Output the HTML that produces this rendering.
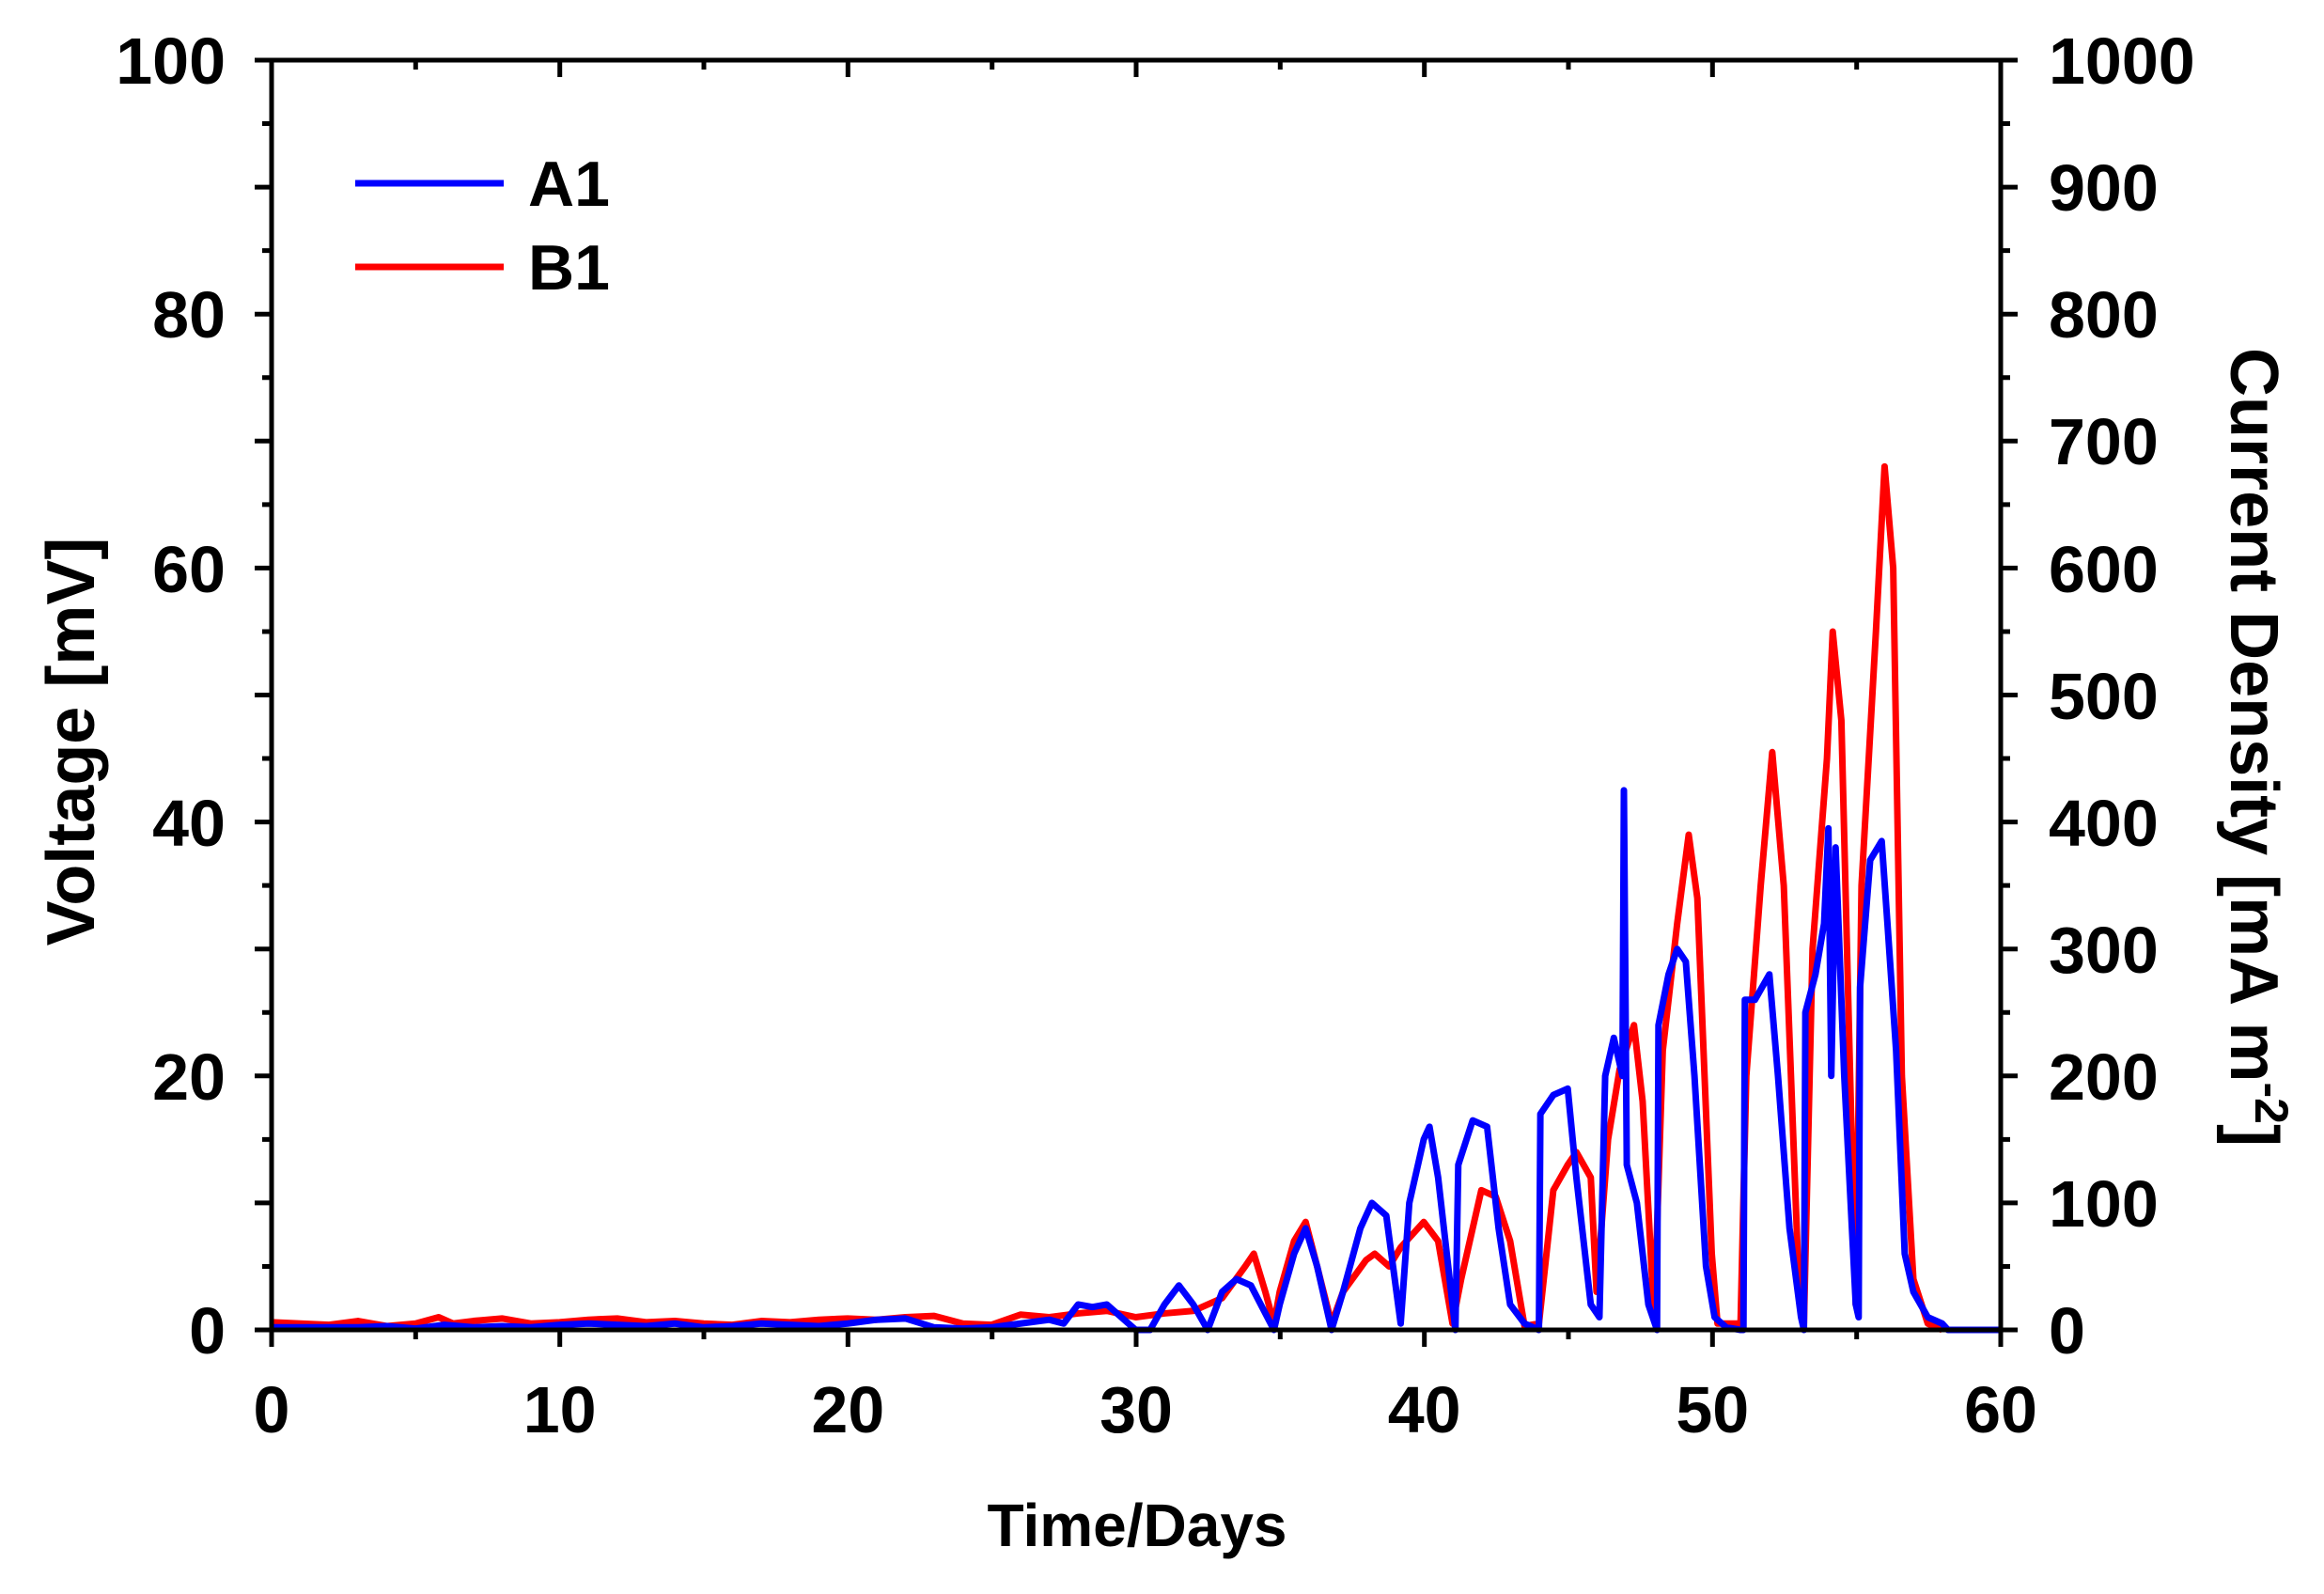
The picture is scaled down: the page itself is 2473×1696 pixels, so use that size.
<!DOCTYPE html>
<html><head><meta charset="utf-8"><style>
body{margin:0;background:#fff}
text{font-family:"Liberation Sans",Arial,sans-serif;font-weight:bold;fill:#000}
</style></head><body>
<svg width="2473" height="1691" viewBox="0 0 2473 1691" xmlns="http://www.w3.org/2000/svg">
<rect width="2473" height="1691" fill="#fff"/>
<g transform="translate(289,1415) scale(30.65,-13.51)" fill="none" stroke-linejoin="round">
<polyline vector-effect="non-scaling-stroke" stroke="#ff0000" stroke-width="7" points="
0,0.6 2,0.4 3,0.7 4,0.3 5,0.5 5.8,1 6.3,0.5 7,0.7 8,0.9 9,0.5 10,0.6 11,0.8 12,0.9 13,0.6 14,0.7 15,0.5 16,0.4 17,0.7 18,0.6 19,0.8 20,0.9 21,0.8 22,1 23,1.1 24,0.5 25,0.4 26,1.2 27,1 28,1.3 29,1.5 30,1 31,1.3 32,1.5 33,2.5 33.8,5 34.1,6 34.5,3 34.8,0.5 35,3 35.5,7 35.9,8.5 36.3,5 36.8,0.5 37.2,3 38,5.5 38.3,6 38.8,5 39.2,6.5 40,8.5 40.5,7 41,0.5 41.3,4 42,11 42.5,10.5 43,7 43.5,0.3 44,0.5 44.5,11 45,13 45.3,14 45.8,12 46,3 46.4,15 46.8,20.5 47.3,24 47.6,18 48,1 48.3,22 48.8,32 49.2,39 49.5,34 50,6 50.2,0.5 51,0.5 51.2,20 51.7,35 52.1,45.5 52.5,35 53,5 53.2,0.5 53.5,30 54,45 54.2,55 54.5,48 55,2 55.2,35 55.7,55 56,68 56.3,60 56.6,20 57,4 57.5,0.5 58,0"/>
<polyline vector-effect="non-scaling-stroke" stroke="#0000ff" stroke-width="7" points="
0,0.2 3,0.2 4,0.3 5,0.1 6,0.4 7,0.2 8,0.3 9,0.2 10,0.4 11,0.5 12,0.4 13,0.3 14,0.5 15,0.2 16,0.3 17,0.5 18,0.4 19,0.3 20,0.5 21,0.8 22,0.9 23,0.2 24,0.1 25,0.2 26,0.5 27,0.8 27.5,0.5 28,2 28.5,1.8 29,2 29.5,1 30,0 30.5,0 31,2 31.5,3.5 32,2 32.5,0 33,3 33.5,4 34,3.5 34.8,0 35,2 35.5,6 35.9,8 36.3,5 36.8,0 37.2,3 37.8,8 38.2,10 38.7,9 39.2,0.5 39.5,10 40,15 40.2,16 40.5,12 41,2 41.1,0 41.2,13 41.7,16.5 42.2,16 42.6,8 43,2 43.5,0.5 44,0 44.05,17 44.5,18.5 45,19 45.3,12 45.8,2 46.1,1 46.3,20 46.6,23 46.9,20 46.95,42.5 47.05,13 47.4,10 47.8,2 48.1,0 48.15,24 48.5,28 48.8,30 49.1,29 49.4,20 49.8,5 50.1,1 50.5,0.2 51,0 51.1,0 51.15,26 51.5,26 52,28 52.3,20 52.7,8 53.1,1 53.2,0 53.25,25 53.6,28 53.9,32 54.05,39.5 54.15,20 54.3,38 54.6,20 55,2 55.1,1 55.15,27 55.5,37 55.9,38.5 56.1,32 56.4,22 56.7,6 57,3 57.5,1 58,0.5 58.2,0 60,0"/>
</g>
<rect x="289" y="64" width="1840" height="1351" fill="none" stroke="#000" stroke-width="5"/>
<path stroke="#000" stroke-width="5" fill="none" d="
M271,1415H289M279,1347.45H289M271,1279.9H289M279,1212.35H289M271,1144.8H289M279,1077.25H289M271,1009.7H289M279,942.15H289M271,874.6H289M279,807.05H289M271,739.5H289M279,671.95H289M271,604.4H289M279,536.85H289M271,469.3H289M279,401.75H289M271,334.2H289M279,266.65H289M271,199.1H289M279,131.55H289M271,64H289
M2129,1415H2147M2129,1347.45H2139M2129,1279.9H2147M2129,1212.35H2139M2129,1144.8H2147M2129,1077.25H2139M2129,1009.7H2147M2129,942.15H2139M2129,874.6H2147M2129,807.05H2139M2129,739.5H2147M2129,671.95H2139M2129,604.4H2147M2129,536.85H2139M2129,469.3H2147M2129,401.75H2139M2129,334.2H2147M2129,266.65H2139M2129,199.1H2147M2129,131.55H2139M2129,64H2147
M289,1415V1433M442.3,1415V1425M595.7,1415V1433M749,1415V1425M902.3,1415V1433M1055.7,1415V1425M1209,1415V1433M1362.3,1415V1425M1515.7,1415V1433M1669,1415V1425M1822.3,1415V1433M1975.7,1415V1425M2129,1415V1433
M442.3,64V74M595.7,64V82M749,64V74M902.3,64V82M1055.7,64V74M1209,64V82M1362.3,64V74M1515.7,64V82M1669,64V74M1822.3,64V82M1975.7,64V74"/>
<g font-size="70">
<text x="240" y="89" text-anchor="end">100</text>
<text x="240" y="359" text-anchor="end">80</text>
<text x="240" y="630" text-anchor="end">60</text>
<text x="240" y="900" text-anchor="end">40</text>
<text x="240" y="1170" text-anchor="end">20</text>
<text x="240" y="1440" text-anchor="end">0</text>
<text x="289" y="1524" text-anchor="middle">0</text>
<text x="595.7" y="1524" text-anchor="middle">10</text>
<text x="902.3" y="1524" text-anchor="middle">20</text>
<text x="1209" y="1524" text-anchor="middle">30</text>
<text x="1515.7" y="1524" text-anchor="middle">40</text>
<text x="1822.3" y="1524" text-anchor="middle">50</text>
<text x="2129" y="1524" text-anchor="middle">60</text>
<text x="2180" y="1440">0</text>
<text x="2180" y="1305">100</text>
<text x="2180" y="1170">200</text>
<text x="2180" y="1035">300</text>
<text x="2180" y="900">400</text>
<text x="2180" y="765">500</text>
<text x="2180" y="630">600</text>
<text x="2180" y="494">700</text>
<text x="2180" y="359">800</text>
<text x="2180" y="224">900</text>
<text x="2180" y="89">1000</text>
</g>
<text font-size="64" x="1210" y="1645" text-anchor="middle">Time/Days</text>
<text font-size="72" transform="translate(100,789) rotate(-90)" text-anchor="middle">Voltage [mV]</text>
<text font-size="72" transform="translate(2374,795) rotate(90)" text-anchor="middle">Current Density [mA m<tspan dy="-26" font-size="50">-2</tspan><tspan dy="26">]</tspan></text>
<line x1="378" y1="195" x2="536" y2="195" stroke="#0000ff" stroke-width="7"/>
<line x1="378" y1="284" x2="536" y2="284" stroke="#ff0000" stroke-width="7"/>
<text font-size="68" x="562" y="219">A1</text>
<text font-size="68" x="562" y="308">B1</text>
</svg>
</body></html>
